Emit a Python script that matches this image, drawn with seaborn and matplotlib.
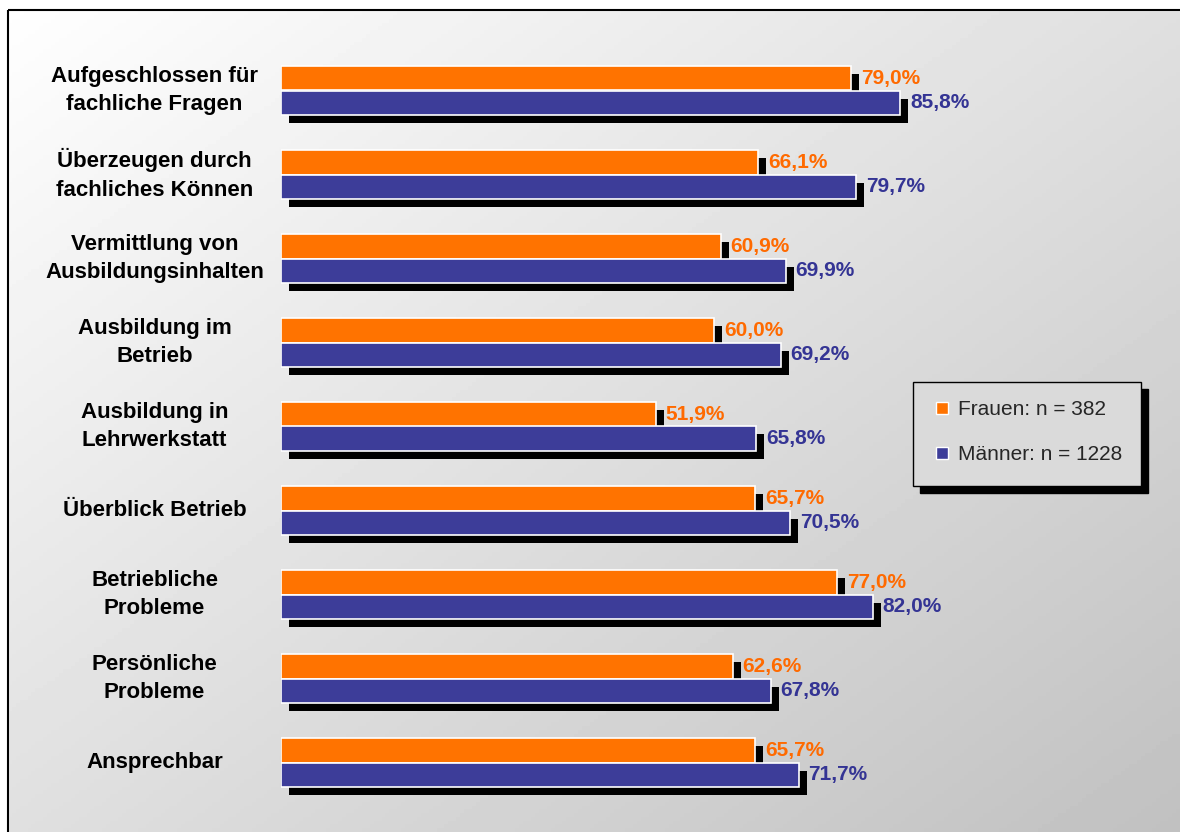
import matplotlib
matplotlib.use('Agg')
import matplotlib.pyplot as plt
import matplotlib.patches as mpatches
import matplotlib.transforms as mtransforms
from matplotlib.lines import Line2D
import numpy as np
import pandas as pd
import seaborn as sns


CATEGORIES = [
    'Aufgeschlossen für\nfachliche Fragen',
    'Überzeugen durch\nfachliches Können',
    'Vermittlung von\nAusbildungsinhalten',
    'Ausbildung im\nBetrieb',
    'Ausbildung in\nLehrwerkstatt',
    'Überblick Betrieb',
    'Betriebliche\nProbleme',
    'Persönliche\nProbleme',
    'Ansprechbar',
]
FRAUEN = [79.0, 66.1, 60.9, 60.0, 51.9, 65.7, 77.0, 62.6, 65.7]
MAENNER = [85.8, 79.7, 69.9, 69.2, 65.8, 70.5, 82.0, 67.8, 71.7]
SERIES = ['Frauen: n = 382', 'Männer: n = 1228']

BAR_COLORS = ['#FF7300', '#3D3D99']
TEXT_COLORS = ['#FF6A00', '#343494']

W, H = 1180, 832


def fmt(v):
    return f'{v:.1f}'.replace('.', ',') + '%'


df = pd.DataFrame({
    'Kategorie': CATEGORIES * 2,
    'Wert': FRAUEN + MAENNER,
    'Gruppe': [SERIES[0]] * len(CATEGORIES) + [SERIES[1]] * len(CATEGORIES),
})

sns.set_theme(style='white')
plt.rcParams['font.family'] = ['Liberation Sans', 'DejaVu Sans']

fig = plt.figure(figsize=(W / 100, H / 100), dpi=100)

# background with gradient, in pixel coordinates
bg = fig.add_axes([0, 0, 1, 1])
bg.set_xlim(0, W)
bg.set_ylim(H, 0)
bg.axis('off')
xx, yy = np.meshgrid(np.linspace(0, 1, 300), np.linspace(0, 1, 220))
grad = 1.0 - 0.245 * (xx + yy) / 2
bg.imshow(grad, cmap='gray', vmin=0, vmax=1, extent=(0, W, H, 0),
          aspect='auto', zorder=0)
bg.add_patch(mpatches.Rectangle((0, 0), W, 10, color='white', zorder=1))
bg.add_patch(mpatches.Rectangle((0, 0), 8, H, color='white', zorder=1))
bg.add_patch(mpatches.Rectangle((8, 10), W + 20, H + 20, fill=False,
                                edgecolor='black', linewidth=1.5, zorder=2))

# legend box with shadow
bg.add_patch(mpatches.Rectangle((920, 389), 228, 104, color='black', zorder=3))
bg.add_patch(mpatches.Rectangle((913, 382), 228, 104, facecolor='#dadada',
                                edgecolor='black', linewidth=1, zorder=4))

ax = fig.add_axes([281 / W, 27.5 / H, 722 / W, 756 / H])
ax.set_facecolor('none')
sns.barplot(data=df, y='Kategorie', x='Wert', hue='Gruppe', orient='h',
            palette=BAR_COLORS, width=0.58, edgecolor='white', linewidth=1.2,
            saturation=1, legend=False, ax=ax)

# drop shadows: same rectangles, shifted 8 px right and 8 px down
shadow_tr = mtransforms.offset_copy(ax.transData, fig=fig, x=8, y=-8,
                                    units='dots')
for patch in list(ax.patches):
    ax.add_patch(mpatches.Rectangle(patch.get_xy(), patch.get_width(),
                                    patch.get_height(), facecolor='black',
                                    edgecolor='none', transform=shadow_tr,
                                    zorder=0.5))

for cont, vals, col in zip(ax.containers, [FRAUEN, MAENNER], TEXT_COLORS):
    ax.bar_label(cont, labels=[fmt(v) for v in vals], padding=7, color=col,
                 fontsize=15, fontweight='bold')

ax.set_xlim(0, 100)
ax.set_ylim(len(CATEGORIES) - 0.5, -0.5)
ax.set_xlabel('')
ax.set_ylabel('')
ax.set_xticks([])
sns.despine(ax=ax, left=True, bottom=True)
ax.set_yticks(range(len(CATEGORIES)), labels=CATEGORIES, ha='center',
              va='center', multialignment='center', fontsize=16,
              fontweight='bold', linespacing=1.45, color='black')
ax.tick_params(axis='y', length=0, pad=91)

handles = [Line2D([], [], marker='s', linestyle='none', markersize=9,
                  markerfacecolor=c, markeredgecolor='white',
                  markeredgewidth=1) for c in BAR_COLORS]
ax.legend(handles, SERIES, loc='center left', frameon=False,
          bbox_to_anchor=(933 / W, 1 - 432 / H), bbox_transform=fig.transFigure,
          borderaxespad=0, borderpad=0, handlelength=0.9, handletextpad=0.3,
          labelspacing=1.25, fontsize=15)

fig.savefig('out.png', dpi=100)
